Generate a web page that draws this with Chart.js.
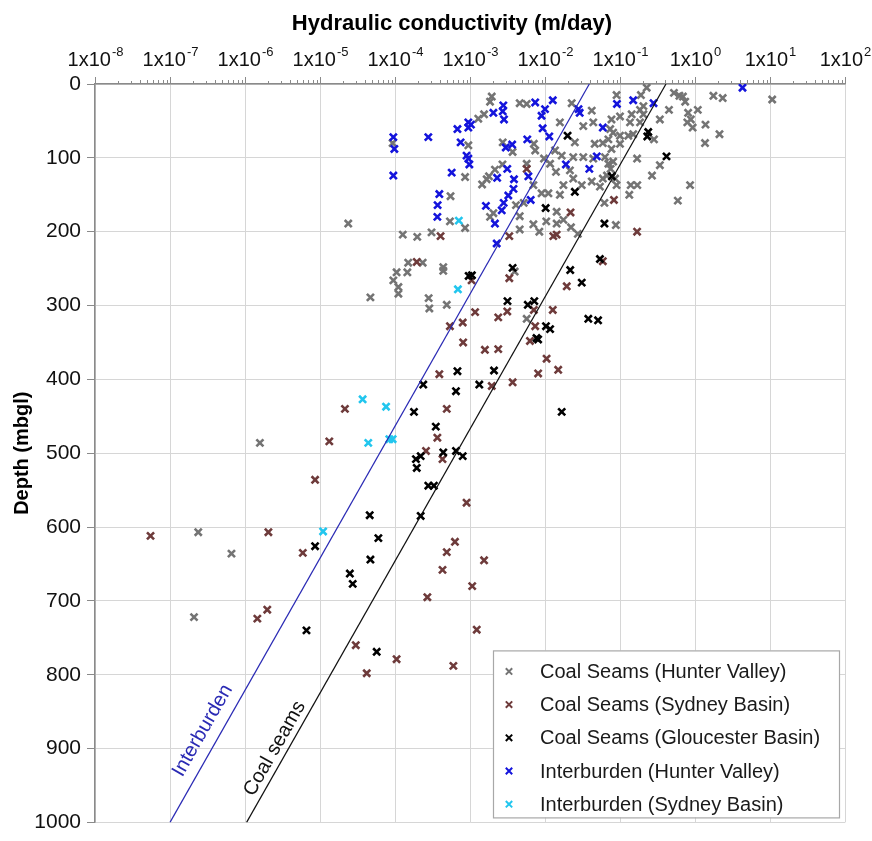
<!DOCTYPE html>
<html>
<head>
<meta charset="utf-8">
<title>Hydraulic conductivity vs depth</title>
<script src="https://cdn.jsdelivr.net/npm/chart.js@4.4.0/dist/chart.umd.min.js"></script>
<style>
  body { margin: 0; background: #fff; }
  #wrap { width: 872px; height: 841px; }
</style>
</head>
<body>
<div id="wrap"><canvas id="kplot"></canvas></div>
<script>
// measurements: [hydraulic conductivity (m/day), depth (mbgl)]
const coalHunter = [
  [0.09, 15], [0.19, 15], [0.227, 5], [0.205, 30], [0.524, 12], [0.62, 16], [0.69, 17], [0.74, 24],
  [1.76, 16], [2.34, 19], [10.7, 21], [0.45, 35], [0.34, 48], [1.09, 35], [0.81, 39], [0.88, 48],
  [0.79, 52], [0.93, 59], [1.38, 55], [2.12, 68], [1.36, 80], [0.284, 75], [0.169, 101], [0.34, 110],
  [0.267, 124], [0.86, 137], [0.59, 158], [0.139, 137], [0.17, 137], [0.133, 150], [0.088, 191], [0.062, 161],
  [0.0227, 26], [0.042, 36], [0.0158, 52], [0.0324, 57], [0.044, 52], [0.077, 48], [0.1, 44], [0.074, 61],
  [0.081, 66], [0.1, 70], [0.136, 52], [0.143, 41], [0.185, 35], [0.205, 41], [0.185, 52], [0.15, 68],
  [0.129, 70], [0.1, 81], [0.07, 75], [0.059, 80], [0.025, 79], [0.046, 81], [0.0097, 101], [0.0136, 90],
  [0.0167, 97], [0.0238, 99], [0.0324, 99], [0.044, 101], [0.0117, 108], [0.014, 119], [0.0215, 117], [0.0238, 128],
  [0.0176, 137], [0.0309, 137], [0.009, 148], [0.0111, 148], [0.0158, 150], [0.07, 108], [0.075, 115], [0.063, 99],
  [0.086, 128], [0.077, 88], [0.09, 137], [0.059, 128], [0.054, 139], [0.042, 132], [0.081, 105], [0.067, 124],
  [0.00195, 17], [0.00185, 24], [0.0046, 26], [0.0057, 27], [0.00154, 41], [0.00129, 47], [0.00095, 83], [0.000093, 80],
  [0.00086, 126], [0.00055, 152], [0.00273, 79], [0.0037, 92], [0.0071, 81], [0.0074, 90], [0.00271, 109], [0.00215, 116],
  [0.00179, 125], [0.00167, 129], [0.00145, 136], [0.0057, 108], [0.007, 137], [0.0041, 164], [0.0046, 197], [0.007, 190],
  [0.0084, 200], [0.0104, 186], [0.0143, 173], [0.0176, 184], [0.0143, 189], [0.0222, 194], [0.0274, 203], [0.0046, 179],
  [0.0052, 161], [0.00205, 175], [0.00185, 180], [0.00394, 254], [0.0057, 318],
  [2.38e-5, 189], [1.27e-4, 204], [1.98e-4, 207], [3.07e-4, 201], [5.4e-4, 186], [8.6e-4, 195], [1.5e-4, 242], [2.34e-4, 242],
  [4.4e-4, 248], [4.4e-4, 253], [1.05e-4, 255], [1.46e-4, 255], [9.5e-5, 266], [1.11e-4, 275], [1.11e-4, 284], [2.81e-4, 290],
  [2.87e-4, 304], [4.9e-4, 299], [4.7e-5, 289], [1.58e-6, 486], [2.38e-7, 607], [6.6e-7, 636], [2.09e-7, 722]
]

const coalSydney = [
  [0.083, 157], [0.169, 200], [0.059, 240], [0.0219, 174], [0.0129, 206], [0.0143, 204], [0.0195, 274], [0.0057, 115],
  [0.00334, 206], [0.00334, 263], [4.05e-4, 206], [1.95e-4, 241], [1.05e-3, 266], [0.0071, 306], [0.0127, 306], [0.0074, 328],
  [0.0063, 348], [1.17e-3, 309], [2.38e-3, 316], [3.14e-3, 308], [5.4e-4, 328], [8.0e-4, 323], [8.1e-4, 350], [1.58e-3, 360],
  [2.38e-3, 359], [0.0105, 372], [0.0081, 392], [0.015, 387], [3.7e-3, 404], [3.9e-4, 393], [1.95e-3, 409], [2.15e-5, 440],
  [4.9e-4, 440], [3.67e-4, 479], [2.59e-4, 497], [4.3e-4, 508], [9.0e-4, 567], [1.33e-5, 484], [8.6e-6, 536], [5.5e-8, 612],
  [2.05e-6, 607], [5.9e-6, 635], [6.3e-4, 620], [4.9e-4, 634], [4.3e-4, 658], [1.07e-3, 680], [2.7e-4, 695], [1.23e-3, 739],
  [1.46e-6, 724], [1.98e-6, 712], [3.0e-5, 760], [1.05e-4, 779], [6.0e-4, 788], [4.2e-5, 798], [1.54e-3, 645]
]

const coalGloucester = [
  [0.238, 65], [0.231, 71], [0.417, 98], [0.078, 125], [0.062, 189], [0.02, 70], [0.025, 146], [0.0102, 168],
  [0.054, 237], [0.0217, 252], [0.0309, 269], [3.7e-3, 249], [9.6e-4, 260], [1.06e-3, 259], [3.16e-3, 294], [7.2e-3, 294],
  [5.9e-3, 299], [0.0103, 328], [0.0117, 332], [7.7e-3, 344], [8.1e-3, 346], [0.0378, 318], [0.051, 320], [0.0167, 444],
  [6.8e-4, 389], [2.09e-3, 388], [1.33e-3, 407], [2.38e-4, 407], [6.5e-4, 416], [1.79e-4, 444], [3.5e-4, 464], [1.9e-4, 508],
  [2.2e-4, 504], [1.95e-4, 520], [4.4e-4, 499], [6.5e-4, 497], [8.0e-4, 504], [2.78e-4, 544], [3.3e-4, 544], [4.6e-5, 584],
  [2.2e-4, 585], [6.0e-5, 615], [4.7e-5, 644], [2.5e-5, 663], [2.73e-5, 677], [8.6e-6, 626], [6.6e-6, 740], [5.7e-5, 769]
]

const interHunter = [
  [4.3, 5], [0.091, 27], [0.15, 22], [0.28, 26], [0.059, 59], [0.049, 98], [0.039, 115], [0.019, 109],
  [0.028, 34], [0.029, 39], [0.0127, 22], [0.01, 34], [0.009, 43], [0.0093, 60], [0.0114, 71], [0.0074, 25],
  [0.00278, 29], [0.00273, 37], [0.00284, 48], [0.00205, 39], [9.5e-4, 52], [1.03e-3, 55], [9.5e-4, 59], [6.8e-4, 61],
  [7.5e-4, 79], [9.0e-4, 97], [9.5e-4, 101], [9.8e-4, 109], [5.7e-4, 120], [3.9e-4, 149], [3.7e-4, 164], [3.67e-4, 180],
  [2.78e-4, 72], [9.5e-5, 72], [9.8e-5, 88], [9.5e-5, 124], [5.8e-3, 75], [3.65e-3, 82], [3.0e-3, 86], [3.14e-3, 115],
  [2.3e-3, 127], [3.86e-3, 129], [3.8e-3, 142], [3.24e-3, 151], [6.0e-3, 125], [2.81e-3, 161], [2.65e-3, 171], [1.63e-3, 165],
  [2.15e-3, 189], [6.45e-3, 157], [2.27e-3, 216]
]

const interSydney = [
  [7.1e-4, 185], [6.9e-4, 278], [3.7e-5, 427], [7.6e-5, 437], [4.4e-5, 486], [8.4e-5, 481], [9.3e-5, 481], [1.1e-5, 606]
]

// fitted trends, end points at 1000 m and at surface
const interburdenTrend = [[1e-7, 1000], [0.039, 0]]
const coalTrend = [[1.05e-6, 1000], [0.41, 0]]

// axis ticks: decades of conductivity, depth every 100 m
const decades = [-8, -7, -6, -5, -4, -3, -2, -1, 0, 1, 2]
const depthTicks = [0, 100, 200, 300, 400, 500, 600, 700, 800, 900, 1000]

const FONT = '"Liberation Sans", Arial, sans-serif'

const toXY = (pts) => pts.map(([k, d]) => ({ x: k, y: d }))

function markers(label, pts, color, order) {
  return {
    label: label,
    data: toXY(pts),
    pointStyle: "crossRot",
    pointRadius: 5,
    pointHoverRadius: 5,
    borderWidth: 2.6,
    pointBorderWidth: 2.6,
    borderColor: color,
    backgroundColor: color,
    order: order,
  }
}

function trend(tag, pts, color, footDepth, offset) {
  return {
    label: tag,
    data: toXY(pts),
    showLine: true,
    pointRadius: 0,
    borderColor: color,
    borderWidth: 1.2,
    order: 0,
    trend: { tag: tag, color: color, footDepth: footDepth, offset: offset },
  }
}

// x tick labels with superscript exponent, minor log ticks, title,
// the boxed legend and the labels sitting along the trend lines
const decorations = {
  id: "decorations",
  afterDatasetsDraw(chart) {
    const ctx = chart.ctx
    const xs = chart.scales.x
    const ys = chart.scales.y
    const area = chart.chartArea

    // trend line labels
    chart.data.datasets.forEach((ds) => {
      if (!ds.trend) return
      const t = ds.trend
      const p1 = { x: xs.getPixelForValue(ds.data[0].x), y: ys.getPixelForValue(ds.data[0].y) }
      const p2 = { x: xs.getPixelForValue(ds.data[1].x), y: ys.getPixelForValue(ds.data[1].y) }
      const angle = Math.atan2(p2.y - p1.y, p2.x - p1.x)
      const fy = ys.getPixelForValue(t.footDepth)
      const f = (fy - p1.y) / (p2.y - p1.y)
      const fx = p1.x + f * (p2.x - p1.x)
      const cx = fx + t.offset * Math.sin(angle)
      const cy = fy - t.offset * Math.cos(angle)
      ctx.save()
      ctx.translate(cx, cy)
      ctx.rotate(angle)
      ctx.font = "20px " + FONT
      ctx.fillStyle = t.color
      ctx.textAlign = "center"
      ctx.textBaseline = "middle"
      ctx.fillText(t.tag, 0, 0)
      ctx.restore()
    })

    // legend box in the lower right corner of the plot
    const w = 346, h = 167
    const bx = area.right - 6 - w
    const by = area.bottom - 5 - h
    ctx.save()
    ctx.fillStyle = "#fff"
    ctx.fillRect(bx, by, w, h)
    ctx.strokeStyle = "#a8a8a8"
    ctx.lineWidth = 1.2
    ctx.strokeRect(bx + 0.5, by + 0.5, w, h)
    ctx.font = "20px " + FONT
    ctx.textBaseline = "middle"
    let row = 0
    chart.data.datasets.forEach((ds) => {
      if (ds.trend) return
      const my = by + 21 + row * 33.2
      const mx = bx + 16
      const r = 3.2
      ctx.strokeStyle = ds.borderColor
      ctx.lineWidth = 2
      ctx.beginPath()
      ctx.moveTo(mx - r, my - r)
      ctx.lineTo(mx + r, my + r)
      ctx.moveTo(mx + r, my - r)
      ctx.lineTo(mx - r, my + r)
      ctx.stroke()
      ctx.fillStyle = "#1a1a1a"
      ctx.fillText(ds.label, bx + 47, my + 1)
      row++
    })
    ctx.restore()
  },
  afterDraw(chart) {
    const ctx = chart.ctx
    const xs = chart.scales.x
    const area = chart.chartArea
    ctx.save()

    // minor ticks above the top axis
    ctx.strokeStyle = "#8a8a8a"
    ctx.lineWidth = 1
    for (let i = 0; i < decades.length - 1; i++) {
      for (let m = 2; m <= 9; m++) {
        const x = Math.round(xs.getPixelForValue(m * Math.pow(10, decades[i]))) + 0.5
        ctx.beginPath()
        ctx.moveTo(x, area.top - (m <= 3 ? 3 : 4))
        ctx.lineTo(x, area.top)
        ctx.stroke()
      }
    }

    // decade labels 1x10^n
    ctx.fillStyle = "#111"
    ctx.textBaseline = "alphabetic"
    ctx.textAlign = "left"
    decades.forEach((e) => {
      const x = xs.getPixelForValue(Math.pow(10, e))
      ctx.font = "20px " + FONT
      const base = "1x10"
      const wb = ctx.measureText(base).width
      ctx.font = "13px " + FONT
      const sup = String(e)
      const ws = ctx.measureText(sup).width
      const start = x - (wb + ws) / 2
      ctx.font = "20px " + FONT
      ctx.fillText(base, start, 66)
      ctx.font = "13px " + FONT
      ctx.fillText(sup, start + wb + 1, 56)
    })

    // axis title
    ctx.font = "bold 22px " + FONT
    ctx.textAlign = "center"
    ctx.fillStyle = "#000"
    ctx.fillText("Hydraulic conductivity (m/day)", 452, 30)
    ctx.restore()
  },
}

new Chart(document.getElementById("kplot").getContext("2d"), {
  type: "scatter",
  data: {
    datasets: [
      markers("Coal Seams (Hunter Valley)", coalHunter, "#747474", 5),
      markers("Coal Seams (Sydney Basin)", coalSydney, "#6e3b3b", 4),
      markers("Coal Seams (Gloucester Basin)", coalGloucester, "#000000", 3),
      markers("Interburden (Hunter Valley)", interHunter, "#1414dc", 2),
      markers("Interburden (Sydney Basin)", interSydney, "#22c6ee", 1),
      trend("Interburden", interburdenTrend, "#2a2ab4", 887, 17),
      trend("Coal seams", coalTrend, "#111111", 908, 12),
    ],
  },
  options: {
    responsive: true,
    maintainAspectRatio: false,
    animation: false,
    events: [],
    layout: {
      padding: { left: 0, right: 27, top: 0, bottom: 7 },
    },
    plugins: {
      legend: { display: false },
      tooltip: { enabled: false },
    },
    scales: {
      x: {
        type: "logarithmic",
        position: "top",
        min: 1e-8,
        max: 1e2,
        afterBuildTicks: (axis) => {
          axis.ticks = decades.map((e) => ({ value: Math.pow(10, e) }))
        },
        afterFit: (axis) => {
          axis.height = 84
        },
        ticks: { display: false },
        grid: { color: "#d6d6d6", lineWidth: 1, tickLength: 7, tickColor: "#8a8a8a" },
        border: { color: "#8a8a8a", width: 1.5 },
      },
      y: {
        reverse: true,
        min: 0,
        max: 1000,
        afterBuildTicks: (axis) => {
          axis.ticks = depthTicks.map((v) => ({ value: v }))
        },
        afterFit: (axis) => {
          axis.width = 95
        },
        ticks: {
          color: "#111",
          font: { family: FONT, size: 21 },
          padding: 6,
          callback: (v) => String(v),
        },
        grid: { color: "#d6d6d6", lineWidth: 1, tickLength: 8, tickColor: "#8a8a8a" },
        border: { color: "#8a8a8a", width: 1.5 },
        title: {
          display: true,
          text: "Depth (mbgl)",
          color: "#000",
          font: { family: FONT, size: 20, weight: "bold" },
          padding: { top: 10, bottom: 0 },
        },
      },
    },
  },
  plugins: [decorations],
})
</script>
</body>
</html>
